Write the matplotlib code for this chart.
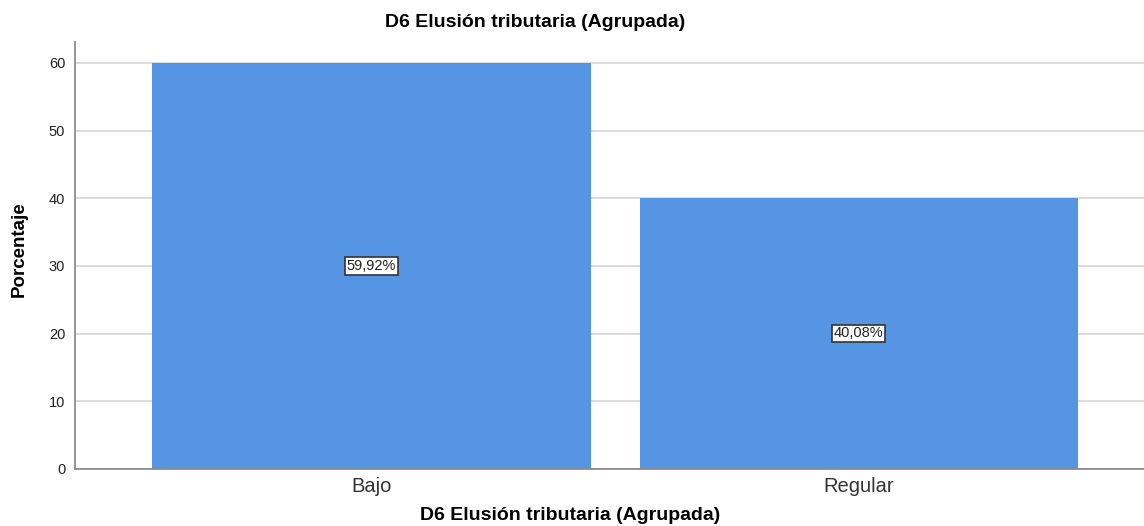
import matplotlib
matplotlib.use("Agg")
from matplotlib import pyplot as plt

plt.rcParams['font.family'] = ['Liberation Sans', 'DejaVu Sans']

categories = ["Bajo", "Regular"]
percentages = [59.92, 40.08]
value_labels = ["59,92%", "40,08%"]
y_ticks = [0, 10, 20, 30, 40, 50, 60]

BAR_COLOR = "#5595e3"
GRID_COLOR = "#d6d6d6"
SPINE_COLOR = "#8c8c8c"

fig = plt.figure(figsize=(11.44, 5.26), dpi=100)
ax = fig.add_axes([0.0656, 0.1084, 0.9344, 0.8118])

x = list(range(len(categories)))
ax.bar(x, percentages, width=0.9, color=BAR_COLOR, zorder=2)

for xi, val, lbl in zip(x, percentages, value_labels):
    ax.text(xi, val / 2, lbl, ha="center", va="center", fontsize=10.5, color="#222222",
            bbox=dict(boxstyle="square,pad=0.12", facecolor="white", edgecolor="#333333", linewidth=1.2),
            zorder=3)

ax.set_xlim(-0.608, 1.585)
ax.set_ylim(0, 63.1)
ax.set_yticks(y_ticks)
ax.set_xticks(x)
ax.set_xticklabels(categories, fontsize=14.5, color="#333333")
ax.tick_params(axis="y", length=0, labelsize=10.5, pad=7, labelcolor="#222222")
ax.tick_params(axis="x", length=0, pad=6)
ax.yaxis.grid(True, color=GRID_COLOR, linewidth=1.2, zorder=0)
ax.set_axisbelow(True)

for side in ["top", "right"]:
    ax.spines[side].set_visible(False)
for side in ["left", "bottom"]:
    ax.spines[side].set_color(SPINE_COLOR)
    ax.spines[side].set_linewidth(1.3)

# axis titles placed in figure coords to match the SPSS layout
fig.text(0.0165, 0.527, "Porcentaje", rotation=90, ha="center", va="center",
         fontsize=13.5, fontweight="bold")
fig.text(0.4983, 0.0205, "D6 Elusión tributaria (Agrupada)", ha="center", va="center",
         fontsize=14, fontweight="bold")
fig.text(0.4677, 0.958, "D6 Elusión tributaria (Agrupada)", ha="center", va="center",
         fontsize=14, fontweight="bold")

fig.savefig("out.png", dpi=100)
